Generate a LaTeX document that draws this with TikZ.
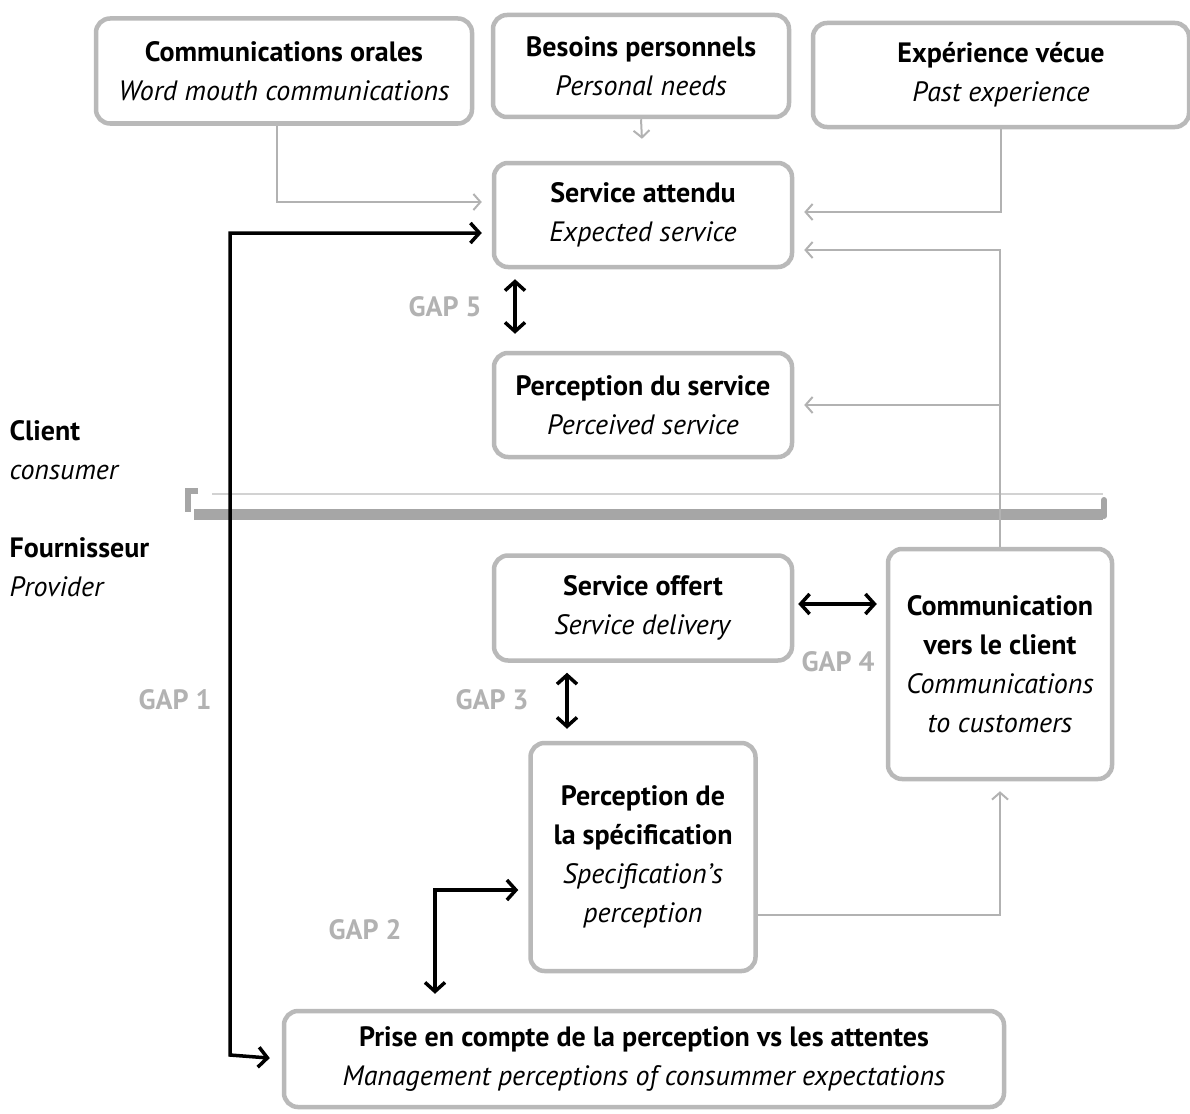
\documentclass[tikz,border=0pt]{standalone}
\usepackage{fontspec}
\setmainfont{PT Sans}
\usetikzlibrary{arrows.meta}

\begin{document}
\begin{tikzpicture}[x=1pt, y=-1pt,
    boite/.style={draw=gray!55, line width=4.5pt, rounded corners=14pt, fill=white, align=center, font=\fontsize{28}{39}\selectfont},
    lien/.style={draw=gray!60, line width=2pt, -{Straight Barb[length=7pt, width=16pt]}, shorten >=10pt},
    ecart/.style={draw=black, line width=3.5pt, {Straight Barb[length=9pt, width=20pt]}-{Straight Barb[length=9pt, width=20pt]}},
    gap/.style={text=gray!60, font=\fontsize{28}{30}\selectfont\bfseries},
    cote/.style={anchor=west, align=left, font=\fontsize{28}{39}\selectfont}]
    \useasboundingbox (0,0) rectangle (1190,1113);

    % cote client
    \node[boite, minimum width=376pt, minimum height=105pt] (orales) at (284,71) {\textbf{Communications orales}\\\textit{Word mouth communications}};
    \node[boite, minimum width=296pt, minimum height=102pt] (besoins) at (641,66) {\textbf{Besoins personnels}\\\textit{Personal needs}};
    \node[boite, minimum width=376pt, minimum height=104pt] (vecue) at (1001,75) {\textbf{Expérience vécue}\\\textit{Past experience}};
    \node[boite, minimum width=298pt, minimum height=104pt] (attendu) at (643,215) {\textbf{Service attendu}\\\textit{Expected service}};
    \node[boite, minimum width=298pt, minimum height=104pt] (percu) at (643,405) {\textbf{Perception du service}\\\textit{Perceived service}};

    \node[cote] (client) at (6,450) {\textbf{Client}\\\textit{consumer}};
    \node[cote] (fourn) at (6,567) {\textbf{Fournisseur}\\\textit{Provider}};

    % separation
    \draw[gray!35, line width=2.5pt] (212,494) -- (1103,494);
    \draw[gray!70, line width=11pt] (194,514) -- (1103,514);
    \draw[gray!70, line width=6pt, line cap=round] (1104,500) -- (1104,516);
    \draw[gray!70, line width=6pt] (198,491) -- (188,491) -- (188,512);

    % cote fournisseur
    \node[boite, minimum width=298pt, minimum height=105pt] (offert) at (643,608) {\textbf{Service offert}\\\textit{Service delivery}};
    \node[boite, minimum width=224pt, minimum height=230pt] (comm) at (1000,664) {\textbf{Communication}\\\textbf{vers le client}\\\textit{Communications}\\\textit{to customers}};
    \node[boite, minimum width=225pt, minimum height=228pt] (spec) at (643,857) {\textbf{Perception de}\\\textbf{la spécification}\\\textit{Specification’s}\\\textit{perception}};
    \node[boite, minimum width=720pt, minimum height=96pt] (prise) at (644,1059) {\textbf{Prise en compte de la perception vs les attentes}\\\textit{Management perceptions of consummer expectations}};

    % liens gris
    \draw[lien] ([xshift=-7pt]orales.south) |- ([yshift=13pt]attendu.west);
    \draw[lien, shorten >=22pt] (besoins.south) -- (attendu.north);
    \draw[lien] (vecue.south) |- ([yshift=3pt]attendu.east);
    \draw[lien] (comm.north) |- ([yshift=-35pt]attendu.east);
    \draw[lien] (comm.north |- percu.east) -- (percu.east);
    \draw[lien] ([yshift=-58pt]spec.east) -| (comm.south);

    % ecarts
    \coordinate (g1) at (230,1055);
    \draw[ecart, shorten <=10pt, shorten >=12pt] ([yshift=-18pt]attendu.west) -| (g1) -- (prise.west);
    \draw[ecart, shorten <=10pt, shorten >=17pt] ([xshift=-128pt]attendu.south) -- ([xshift=-128pt]percu.north);
    \draw[ecart, shorten <=4pt, shorten >=9pt] ([yshift=4pt]offert.east) -- ([yshift=60pt]comm.west);
    \draw[ecart, shorten <=10pt, shorten >=12pt] ([xshift=-76pt]offert.south) -- ([xshift=-76pt]spec.north);
    \draw[ecart, shorten <=10pt, shorten >=15pt] ([yshift=-33pt]spec.west) -| ([xshift=-209pt]prise.north);

    \node[gap] (gap1) at (175,700) {GAP 1};
    \node[gap] (gap2) at (365,930) {GAP 2};
    \node[gap] (gap3) at (492,700) {GAP 3};
    \node[gap] (gap4) at (838,662) {GAP 4};
    \node[gap] (gap5) at (445,307) {GAP 5};
\end{tikzpicture}
\end{document}
